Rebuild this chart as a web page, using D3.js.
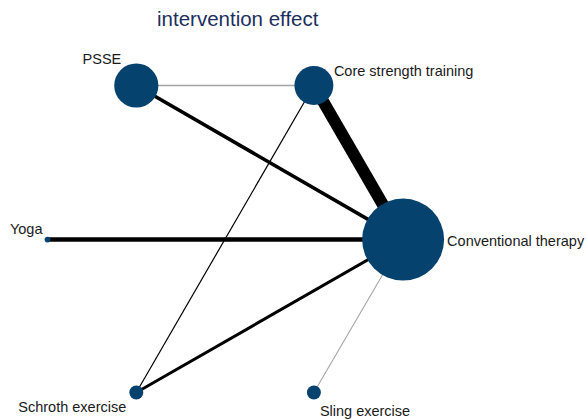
<!DOCTYPE html>
<html>
<head>
<meta charset="utf-8">
<script src="https://cdn.jsdelivr.net/npm/d3@7"></script>
<style>
  html, body { margin: 0; padding: 0; background: #fff; }
  svg { display: block; font-family: Arial, "Liberation Sans", sans-serif; }
</style>
</head>
<body>
<svg id="chart" width="587" height="419"></svg>
<script>
// Treatments in the network and their pooled sample sizes
const treatments = ["PSSE", "Core strength training", "Conventional therapy", "Yoga", "Schroth exercise", "Sling exercise"];
const sampleSizes = [290, 225, 1000, 5, 29, 29];

// Direct comparisons: endpoints, weight of evidence, comparison type
const edgeFrom   = ["PSSE", "PSSE", "Core strength training", "Core strength training", "Yoga", "Schroth exercise", "Sling exercise"];
const edgeTo     = ["Core strength training", "Conventional therapy", "Conventional therapy", "Schroth exercise", "Conventional therapy", "Conventional therapy", "Conventional therapy"];
const edgeWeight = [0.85, 2.4, 8, 0.8, 3, 2, 0.7];
const edgeType   = ["single", "multi", "multi", "multi", "multi", "multi", "single"];

const title = "intervention effect";

// Node placement (layout of the network drawing, in plot units 0..1)
const layout = {
  "PSSE":                   [0.222, 0.0],
  "Core strength training": [0.666, 0.0],
  "Conventional therapy":   [0.889, 0.502],
  "Yoga":                   [0.0, 0.502],
  "Schroth exercise":       [0.222, 1.0],
  "Sling exercise":         [0.666, 1.0]
};
// Label anchoring relative to each node
const labelPos = {
  "PSSE":                   {dx: -15, dy: -22, anchor: "end"},
  "Core strength training": {dx: 20,  dy: -10, anchor: "start"},
  "Conventional therapy":   {dx: 44,  dy: 6,   anchor: "start"},
  "Yoga":                   {dx: -5,  dy: -6,  anchor: "end"},
  "Schroth exercise":       {dx: -10, dy: 19,  anchor: "end"},
  "Sling exercise":         {dx: 6,   dy: 23,  anchor: "start"}
};

const svg = d3.select("#chart");

const x = d3.scaleLinear().domain([0, 1]).range([47.5, 447.5]);
const y = d3.scaleLinear().domain([0, 1]).range([85.5, 392.5]);
const r = d3.scaleSqrt().domain([0, d3.max(sampleSizes)]).range([0, 41]);
const w = d3.scaleLinear().domain([0, d3.max(edgeWeight)]).range([0, 12]);
const edgeColor = d3.scaleOrdinal().domain(["single", "multi"]).range(["#a3a3a3", "#000000"]);

const nodes = treatments.map((name, i) => ({
  name, size: sampleSizes[i], px: layout[name][0], py: layout[name][1]
}));
const byName = new Map(nodes.map(n => [n.name, n]));
const edges = edgeFrom.map((f, i) => ({
  source: byName.get(f), target: byName.get(edgeTo[i]), weight: edgeWeight[i], type: edgeType[i]
}));

svg.append("text")
  .attr("x", 157)
  .attr("y", 26)
  .attr("font-size", 20.5)
  .attr("fill", "#1b2f5e")
  .text(title);

svg.append("g")
  .selectAll("line")
  .data(edges)
  .join("line")
  .attr("x1", d => x(d.source.px))
  .attr("y1", d => y(d.source.py))
  .attr("x2", d => x(d.target.px))
  .attr("y2", d => y(d.target.py))
  .attr("stroke", d => edgeColor(d.type))
  .attr("stroke-width", d => w(d.weight));

svg.append("g")
  .selectAll("circle")
  .data(nodes)
  .join("circle")
  .attr("cx", d => x(d.px))
  .attr("cy", d => y(d.py))
  .attr("r", d => r(d.size))
  .attr("fill", "#05426e");

svg.append("g")
  .selectAll("text")
  .data(nodes)
  .join("text")
  .attr("x", d => x(d.px) + labelPos[d.name].dx)
  .attr("y", d => y(d.py) + labelPos[d.name].dy)
  .attr("text-anchor", d => labelPos[d.name].anchor)
  .attr("font-size", 14.5)
  .attr("fill", "#1a1a1a")
  .text(d => d.name);
</script>
</body>
</html>
